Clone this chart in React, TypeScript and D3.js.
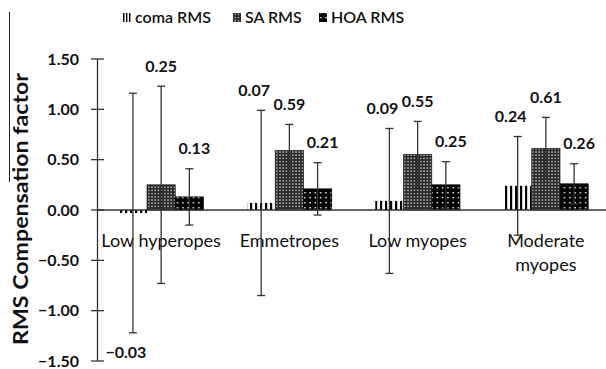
import React from "react";
import * as d3 from "d3";

const W = 606;
const H = 369;

const categories = ["Low hyperopes", "Emmetropes", "Low myopes", "Moderate\nmyopes"];
const seriesNames = ["coma RMS", "SA RMS", "HOA RMS"];
const comaValues = [-0.03, 0.07, 0.09, 0.24];
const comaSD = [1.19, 0.92, 0.72, 0.49];
const saValues = [0.25, 0.59, 0.55, 0.61];
const saSD = [0.98, 0.26, 0.33, 0.31];
const hoaValues = [0.13, 0.21, 0.25, 0.26];
const hoaSD = [0.28, 0.26, 0.23, 0.2];
const yTicks = [-1.5, -1.0, -0.5, 0, 0.5, 1.0, 1.5];

const FONT = "Lato, 'Open Sans', sans-serif";
const PATTERNS = ["pat-coma", "pat-sa", "pat-hoa"];
const LEGEND_PATTERNS = ["pat-coma-small", "pat-sa", "pat-hoa"];
const OUTLINE = ["none", "#222", "#111"];
const LABEL_DX = [-7, 0, 5];

export default function App() {
  const y = d3.scaleLinear().domain([-1.5, 1.5]).range([361, 59]);
  const x = d3
    .scaleBand()
    .domain(categories)
    .range([97, 610])
    .paddingInner(0.34)
    .paddingOuter(0.17);
  const xs = d3.scaleBand().domain(seriesNames).range([0, x.bandwidth()]);
  const fmt = d3.format(".2f");

  const series = [
    { name: seriesNames[0], values: comaValues, sd: comaSD },
    { name: seriesNames[1], values: saValues, sd: saSD },
    { name: seriesNames[2], values: hoaValues, sd: hoaSD },
  ];

  const legendX = [123, 233, 319];

  return (
    <svg width={W} height={H} style={{ display: "block", position: "absolute", left: 0, top: 0 }}>
      <defs>
        <pattern id="pat-coma" width={5} height={4} patternUnits="userSpaceOnUse">
          <rect width={5} height={4} fill="#fff" />
          <rect width={2.2} height={4} fill="#000" />
        </pattern>
        <pattern id="pat-coma-small" width={3} height={4} patternUnits="userSpaceOnUse" x={123}>
          <rect width={3} height={4} fill="#fff" />
          <rect width={1.4} height={4} fill="#000" />
        </pattern>
        <pattern id="pat-sa" width={3.2} height={3.2} patternUnits="userSpaceOnUse">
          <rect width={3.2} height={3.2} fill="#2a2a2a" />
          <rect x={1} y={1} width={1.3} height={1.3} fill="#ddd" />
        </pattern>
        <pattern id="pat-hoa" width={5.3} height={5} patternUnits="userSpaceOnUse">
          <rect width={5.3} height={5} fill="#000" />
          <rect x={2} y={2} width={1.4} height={1.4} fill="#fff" />
        </pattern>
      </defs>
      <rect width={W} height={H} fill="#fff" />

      {/* stray border line at far left */}
      <line x1={9.5} x2={9.5} y1={12} y2={182} stroke="#222" strokeWidth={1} />

      {/* legend */}
      {seriesNames.map((s, i) => (
        <g key={s}>
          <rect x={legendX[i]} y={13} width={8} height={9} fill={`url(#${LEGEND_PATTERNS[i]})`} />
          <text x={legendX[i] + 12} y={23} fontFamily={FONT} fontSize={16} fontWeight={600} fill="#111">
            {s}
          </text>
        </g>
      ))}

      {/* y title */}
      <text
        transform={`translate(28,${209}) rotate(-90)`}
        textAnchor="middle"
        fontFamily={FONT}
        fontSize={21}
        fontWeight="bold"
        fill="#111"
        textLength={272}
        lengthAdjust="spacingAndGlyphs"
      >
        RMS Compensation factor
      </text>

      {/* bars */}
      {series.map((s, si) =>
        categories.map((c, ci) => {
          const v = s.values[ci];
          const bx = (x(c) as number) + (xs(s.name) as number);
          return (
            <rect
              key={s.name + c}
              x={bx}
              y={Math.min(y(v), y(0))}
              width={xs.bandwidth()}
              height={Math.abs(y(v) - y(0))}
              fill={`url(#${PATTERNS[si]})`}
              stroke={OUTLINE[si]}
              strokeWidth={0.8}
            />
          );
        })
      )}

      {/* x axis */}
      <line x1={97} x2={W} y1={y(0)} y2={y(0)} stroke="#333" strokeWidth={1.5} />

      {/* y axis */}
      <line x1={97.5} x2={97.5} y1={y(1.5)} y2={y(-1.5)} stroke="#333" strokeWidth={1.3} />
      {yTicks.map((t) => (
        <g key={t}>
          <line x1={91} x2={104} y1={y(t)} y2={y(t)} stroke="#333" strokeWidth={1.3} />
          <text
            x={79}
            y={y(t)}
            dy="0.36em"
            textAnchor="end"
            fontFamily={FONT}
            fontSize={16}
            fontWeight="bold"
            fill="#111"
          >
            {fmt(t)}
          </text>
        </g>
      ))}

      {/* category labels */}
      {categories.map((c) => (
        <text
          key={c}
          x={(x(c) as number) + x.bandwidth() / 2}
          y={247}
          textAnchor="middle"
          fontFamily={FONT}
          fontSize={18}
          fill="#111"
        >
          {c.split("\n").map((line, li) => (
            <tspan key={li} x={(x(c) as number) + x.bandwidth() / 2} dy={li === 0 ? 0 : 24}>
              {line}
            </tspan>
          ))}
        </text>
      ))}

      {/* error bars */}
      {series.map((s) =>
        categories.map((c, ci) => {
          const v = s.values[ci];
          const sd = s.sd[ci];
          const cx = (x(c) as number) + (xs(s.name) as number) + xs.bandwidth() / 2;
          return (
            <g key={"e" + s.name + c} stroke="#333" strokeWidth={1.3}>
              <line x1={cx} x2={cx} y1={y(v + sd)} y2={y(v - sd)} />
              <line x1={cx - 4} x2={cx + 4} y1={y(v + sd)} y2={y(v + sd)} />
              <line x1={cx - 4} x2={cx + 4} y1={y(v - sd)} y2={y(v - sd)} />
            </g>
          );
        })
      )}

      {/* value labels */}
      {series.map((s, si) =>
        categories.map((c, ci) => {
          const v = s.values[ci];
          const sd = s.sd[ci];
          const cx = (x(c) as number) + (xs(s.name) as number) + xs.bandwidth() / 2 + LABEL_DX[si];
          const ly = v < 0 ? y(v - sd) + 19 : y(v + sd) - 20;
          return (
            <text
              key={"l" + s.name + c}
              x={cx}
              y={ly}
              dy="0.36em"
              textAnchor="middle"
              fontFamily={FONT}
              fontSize={16}
              fontWeight="bold"
              fill="#111"
            >
              {fmt(v)}
            </text>
          );
        })
      )}
    </svg>
  );
}
